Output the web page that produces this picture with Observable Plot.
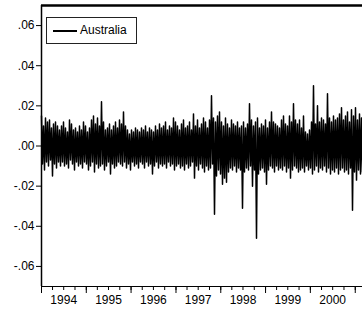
<!DOCTYPE html>
<html><head><meta charset="utf-8">
<script src="https://cdn.jsdelivr.net/npm/d3@7"></script>
<script src="https://cdn.jsdelivr.net/npm/@observablehq/plot@0.6"></script>
<style>
body{margin:0;background:#fff;}
#wrap{position:relative;width:362px;height:313px;overflow:hidden;}
#legend{position:absolute;left:46px;top:17px;width:89px;height:25px;border:1px solid #222;background:#fff;font:12px "Liberation Sans",Arial,sans-serif;color:#000;}
#legend .sw{position:absolute;left:6px;top:12px;width:24px;height:0;border-top:2px solid #000;}
#legend .lb{position:absolute;left:33px;top:5px;line-height:14px;}
</style></head>
<body><div id="wrap"><div id="chart"></div><div id="legend"><span class="sw"></span><span class="lb">Australia</span></div></div>
<script>
// Series name
const seriesName = "Australia";
// Upper envelope of daily returns, one value per ~16 days
const hi = [
 .015,.010,.014,.012,.013,.009,.011,.012,.010,.008,
 .010,.012,.009,.007,.013,.011,.008,.009,.007,.010,
 .008,.012,.010,.007,.009,.013,.015,.011,.014,.010,
 .022,.012,.008,.009,.011,.008,.010,.012,.009,.013,
 .011,.017,.010,.008,.006,.008,.007,.009,.008,.007,
 .009,.008,.010,.007,.009,.008,.007,.010,.008,.011,
 .009,.010,.012,.008,.010,.009,.014,.012,.010,.008,
 .011,.013,.009,.010,.012,.008,.016,.010,.013,.009,
 .011,.014,.012,.009,.013,.025,.014,.012,.015,.017,
 .012,.010,.014,.011,.009,.013,.011,.010,.012,.009,
 .010,.012,.009,.011,.021,.013,.010,.012,.014,.009,
 .011,.010,.013,.009,.012,.017,.012,.011,.010,.009,
 .013,.015,.011,.010,.015,.012,.021,.013,.011,.013,
 .009,.015,.007,.006,.008,.012,.030,.011,.020,.012,
 .014,.013,.011,.026,.014,.012,.015,.013,.014,.016,
 .019,.013,.015,.017,.012,.018,.015,.019,.013,.016,.014
];
// Lower envelope of daily returns, same periods
const lo = [
 -.009,-.012,-.008,-.010,-.007,-.015,-.009,-.011,-.008,-.010,
 -.008,-.010,-.009,-.011,-.007,-.009,-.012,-.008,-.010,-.009,
 -.011,-.008,-.009,-.012,-.010,-.008,-.013,-.009,-.011,-.010,
 -.009,-.012,-.010,-.008,-.014,-.009,-.011,-.010,-.008,-.009,
 -.010,-.008,-.011,-.009,-.012,-.008,-.010,-.009,-.011,-.008,
 -.009,-.011,-.008,-.010,-.009,-.014,-.010,-.008,-.011,-.009,
 -.010,-.009,-.011,-.008,-.010,-.009,-.012,-.010,-.009,-.011,
 -.010,-.012,-.009,-.011,-.010,-.008,-.016,-.010,-.012,-.009,
 -.011,-.013,-.010,-.012,-.011,-.009,-.034,-.015,-.012,-.014,
 -.019,-.016,-.018,-.013,-.011,-.012,-.010,-.013,-.011,-.012,
 -.031,-.013,-.011,-.012,-.010,-.020,-.012,-.046,-.014,-.012,
 -.011,-.013,-.019,-.012,-.010,-.011,-.013,-.010,-.012,-.011,
 -.012,-.010,-.013,-.011,-.016,-.012,-.010,-.011,-.013,-.012,
 -.011,-.013,-.010,-.012,-.011,-.014,-.012,-.010,-.013,-.011,
 -.012,-.010,-.013,-.011,-.014,-.012,-.013,-.011,-.014,-.012,
 -.011,-.013,-.012,-.014,-.011,-.032,-.013,-.017,-.012,-.014,-.013
];
// Axis values
const yTicks = [-0.06,-0.04,-0.02,0,0.02,0.04,0.06];
const yearLabels = [1994,1995,1996,1997,1998,1999,2000];
const startDate = new Date(1994,0,1);
const endDate = new Date(2001,2,1);

const n = hi.length*2 - 1;
const step = (endDate - startDate)/n;
const series = [];
hi.forEach((h,i)=>{
  series.push({date:new Date(+startDate + (2*i)*step), v:h});
  series.push({date:new Date(+startDate + (2*i+1)*step), v:lo[i]});
});
const fmt = d => (d<0?"-":"") + d3.format(".2f")(Math.abs(d)).replace(/^0/,"");
const quarters = d3.timeMonth.every(3).range(startDate, endDate);
const years = d3.timeYear.range(startDate, endDate);
const mids = yearLabels.map(y=>new Date(y,6,1));

const chart = Plot.plot({
  width:362, height:313,
  marginLeft:41, marginRight:0, marginTop:5, marginBottom:27,
  style:{fontFamily:"'Liberation Sans', Arial, sans-serif", fontSize:"12px", background:"white", color:"black"},
  x:{type:"time", domain:[startDate,endDate]},
  y:{domain:[-0.07,0.07]},
  marks:[
    Plot.line(series,{x:"date",y:"v",stroke:"black",strokeWidth:1.5}),
    Plot.axisY(yTicks,{tickSize:5,tickPadding:2,tickFormat:fmt,label:null}),
    Plot.axisX(quarters,{tickSize:4,tickFormat:()=>"",label:null}),
    Plot.axisX(years,{tickSize:7,tickFormat:()=>"",label:null}),
    Plot.axisX(mids,{tickSize:0,tickPadding:9,tickFormat:d=>String(d.getFullYear()),label:null}),
    Plot.ruleX([startDate],{strokeWidth:1.5}),
    Plot.ruleY([-0.07],{strokeWidth:1.2}),
    Plot.ruleY([0.07],{strokeWidth:2.5})
  ]
});
document.getElementById("chart").appendChild(chart);
</script></body></html>
